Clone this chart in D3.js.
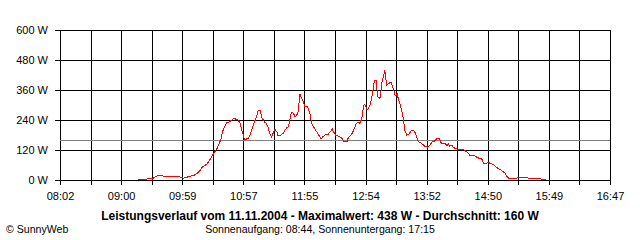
<!DOCTYPE html>
<html>
<head>
<meta charset="utf-8">
<script src="https://d3js.org/d3.v7.min.js"></script>
<style>
  body { margin: 0; background: #fff; }
  svg { display: block; font-family: "Liberation Sans", Arial, sans-serif; }
  .axis text { font-size: 11px; fill: #000; }
  .axis line, .grid line { stroke: #000; shape-rendering: crispEdges; }
  .axis path, .grid path { display: none; }
</style>
</head>
<body>
<div id="chart"></div>
<script>

// power readings of the day (time, watts)
var times = ["09:16","09:25","09:26","09:31","09:33","09:36","09:38","09:41","09:55","09:58",
  "10:00","10:03","10:06","10:10","10:13","10:16","10:18","10:22","10:23","10:25",
  "10:27","10:29","10:32","10:34","10:36","10:37","10:39","10:41","10:44","10:46",
  "10:48","10:51","10:52","10:54","10:55","10:57","10:58","11:00","11:02","11:04",
  "11:06","11:08","11:10","11:11","11:13","11:14","11:15","11:17","11:19","11:21",
  "11:22","11:24","11:26","11:27","11:29","11:30","11:33","11:35","11:38","11:40",
  "11:42","11:43","11:45","11:46","11:47","11:49","11:50","11:51","11:52","11:54",
  "11:56","11:58","11:59","12:01","12:02","12:04","12:07","12:10","12:11","12:13",
  "12:15","12:18","12:20","12:22","12:23","12:25","12:29","12:31","12:33","12:36",
  "12:37","12:39","12:41","12:43","12:45","12:46","12:48","12:50","12:52","12:53",
  "12:55","12:56","12:58","13:00","13:01","13:02","13:04","13:05","13:07","13:08",
  "13:09","13:11","13:12","13:13","13:14","13:16","13:18","13:19","13:21","13:22",
  "13:24","13:25","13:27","13:28","13:30","13:31","13:33","13:35","13:37","13:39",
  "13:41","13:43","13:44","13:47","13:50","13:53","13:55","13:57","14:00","14:02",
  "14:04","14:06","14:08","14:10","14:11","14:13","14:14","14:16","14:17","14:19",
  "14:21","14:24","14:27","14:30","14:32","14:33","14:37","14:39","14:42","14:45",
  "14:46","14:49","14:51","14:53","14:56","14:58","15:00","15:03","15:05","15:07",
  "15:08","15:10","15:12","15:18","15:20","15:28","15:29","15:40","15:42","15:46"]
var watts = [3,3,7,7,13,19,19,15,15,9,
  7,11,15,19,27,40,53,63,69,80,
  96,107,127,147,167,191,213,229,233,240,
  247,241,240,227,207,180,164,164,167,187,
  213,236,260,277,280,260,247,233,227,207,
  187,173,193,203,193,177,180,187,207,213,
  253,271,267,253,253,267,300,343,333,316,
  293,293,287,260,227,213,193,173,164,173,
  180,183,193,204,193,180,173,167,153,153,
  167,177,187,207,227,231,227,243,300,303,
  280,283,300,340,363,397,397,333,327,333,
  387,420,438,407,380,387,391,380,353,336,
  343,323,300,280,240,200,180,184,196,200,
  189,167,153,147,136,131,140,151,157,167,
  167,147,144,147,137,144,136,140,133,127,
  124,124,123,113,107,100,100,93,87,83,
  67,67,69,67,60,53,47,40,33,27,
  16,8,7,7,11,11,7,5,3,3]

var average = 160
var yTicks = [0, 120, 240, 360, 480, 600]
var xTickLabels = ["08:02","09:00","09:59","10:57","11:55","12:54","13:52","14:50","15:49","16:47"]
var dayStart = "08:02", dayEnd = "16:47"

var title = "Leistungsverlauf vom 11.11.2004 - Maximalwert: 438 W - Durchschnitt: 160 W"
var subTitle = "Sonnenaufgang: 08:44, Sonnenuntergang: 17:15"
var credit = "\u00A9 SunnyWeb"

// plot area
var width = 640, height = 240
var plot = {left: 60, right: 610, top: 30, bottom: 180}

var parseTime = d3.timeParse("%H:%M")
var t0 = parseTime(dayStart), t1 = parseTime(dayEnd)

var x = d3.scaleTime().domain([t0, t1]).range([plot.left, plot.right])
var y = d3.scaleLinear().domain([0, 600]).range([plot.bottom, plot.top])

// 18 grid intervals, every second one labelled
var gridTimes = d3.range(19).map(function(i) {
  return new Date(+t0 + i * (t1 - t0) / 18)
})

var svg = d3.select("#chart").append("svg")
  .attr("width", width)
  .attr("height", height)

svg.append("rect").attr("width", width).attr("height", height).attr("fill", "#fff")

// grid
svg.append("g")
  .attr("class", "grid")
  .attr("transform", "translate(0," + plot.bottom + ")")
  .call(d3.axisBottom(x).tickValues(gridTimes).tickSize(-(plot.bottom - plot.top)).tickFormat(""))

svg.append("g")
  .attr("class", "grid")
  .attr("transform", "translate(" + plot.left + ",0)")
  .call(d3.axisLeft(y).tickValues(yTicks).tickSize(-(plot.right - plot.left)).tickFormat(""))

// axes with short outside ticks
svg.append("g")
  .attr("class", "axis")
  .attr("transform", "translate(0," + plot.bottom + ")")
  .call(d3.axisBottom(x).tickValues(gridTimes).tickSize(5).tickPadding(7)
    .tickFormat(function(d, i) { return i % 2 == 0 ? xTickLabels[i / 2] : "" }))

svg.append("g")
  .attr("class", "axis")
  .attr("transform", "translate(" + plot.left + ",0)")
  .call(d3.axisLeft(y).tickValues(yTicks).tickSize(5).tickPadding(7)
    .tickFormat(function(d) { return d + " W" }))

// average line
svg.append("line")
  .attr("x1", plot.left).attr("x2", plot.right)
  .attr("y1", Math.round(y(average)) + 0.5).attr("y2", Math.round(y(average)) + 0.5)
  .attr("stroke", "#808080")
  .style("shape-rendering", "crispEdges")

// power curve
var points = times.map(function(t, i) { return {t: parseTime(t), w: watts[i]} })

var line = d3.line()
  .x(function(d) { return x(d.t) })
  .y(function(d) { return y(d.w) })

svg.append("path")
  .datum(points)
  .attr("d", line)
  .attr("fill", "none")
  .attr("stroke", "#ff0000")
  .attr("stroke-width", 1)
  .style("shape-rendering", "crispEdges")

// texts below
svg.append("text")
  .attr("x", 320).attr("y", 220)
  .attr("text-anchor", "middle")
  .style("font-size", "12px")
  .style("font-weight", "bold")
  .text(title)

svg.append("text")
  .attr("x", 320).attr("y", 233)
  .attr("text-anchor", "middle")
  .style("font-size", "10.6px")
  .text(subTitle)

svg.append("text")
  .attr("x", 6).attr("y", 233)
  .style("font-size", "10.6px")
  .text(credit)

</script>
</body>
</html>
